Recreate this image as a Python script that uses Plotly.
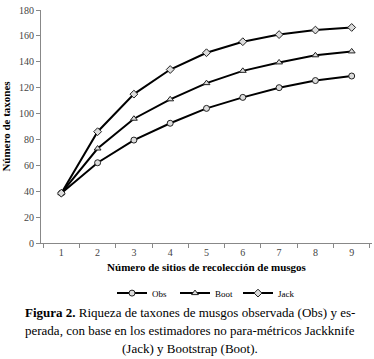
import plotly.graph_objects as go

sitios = ["1", "2", "3", "4", "5", "6", "7", "8", "9"]
obs = [38.5, 62, 79.5, 92.5, 104, 112.5, 120, 125.5, 129]
boot = [38.5, 73, 96, 111, 123.5, 133, 139.5, 145, 148]
jack = [38.5, 86, 115, 134, 147, 155.5, 161, 164.5, 166.5]
y_ticks = [0, 20, 40, 60, 80, 100, 120, 140, 160, 180]

FONT = "Liberation Serif"

fig = go.Figure()
for name, vals, sym in [("Obs", obs, "circle"), ("Boot", boot, "triangle-up"), ("Jack", jack, "diamond")]:
    fig.add_trace(go.Scatter(
        x=sitios, y=vals, name=name, mode="lines+markers",
        line=dict(color="black", width=2),
        marker=dict(symbol=sym, size=6, color="#dcdcdc", line=dict(color="#222", width=1)),
    ))

fig.update_layout(
    width=374, height=359,
    margin=dict(l=41, r=2, t=10, b=116),
    paper_bgcolor="white", plot_bgcolor="white",
    font=dict(family=FONT, color="black"),
    showlegend=True,
    legend=dict(orientation="h", x=0.5, xanchor="center", y=-0.215, yanchor="middle",
                font=dict(size=9, family=FONT), entrywidth=18, entrywidthmode="pixels",
                tracegroupgap=0),
    xaxis=dict(type="category", tickson="boundaries", ticks="outside", ticklen=4,
               tickcolor="#888", showline=True, linecolor="#888", linewidth=1,
               showgrid=False, tickfont=dict(size=10, color="#444"),
               title=dict(text="<b>Número de sitios de recolección de musgos</b>",
                          font=dict(size=11), standoff=6)),
    yaxis=dict(range=[0, 180], tickvals=y_ticks, ticks="outside", ticklen=4,
               tickcolor="#888", showline=True, linecolor="#888", linewidth=1,
               showgrid=False, zeroline=False, tickfont=dict(size=10, color="#444"),
               title=dict(text="<b>Número de taxones</b>", font=dict(size=11), standoff=6)),
)

caption = [
    ("<b>Figura 2.</b> Riqueza de taxones de musgos observada (Obs) y es-", 312),
    ("perada, con base en los estimadores no para-métricos Jackknife", 330),
    ("(Jack) y Bootstrap (Boot).", 349),
]
for txt, ypx in caption:
    fig.add_annotation(text=txt, xref="paper", yref="paper", x=(190 - 41) / 331,
                       y=(243 - ypx) / 233, xanchor="center", yanchor="middle",
                       showarrow=False, font=dict(size=13, family=FONT, color="black"))

fig.write_html("out.html", config={"displayModeBar": False},
               post_script="document.body.style.margin='0';document.body.style.overflow='hidden';")
